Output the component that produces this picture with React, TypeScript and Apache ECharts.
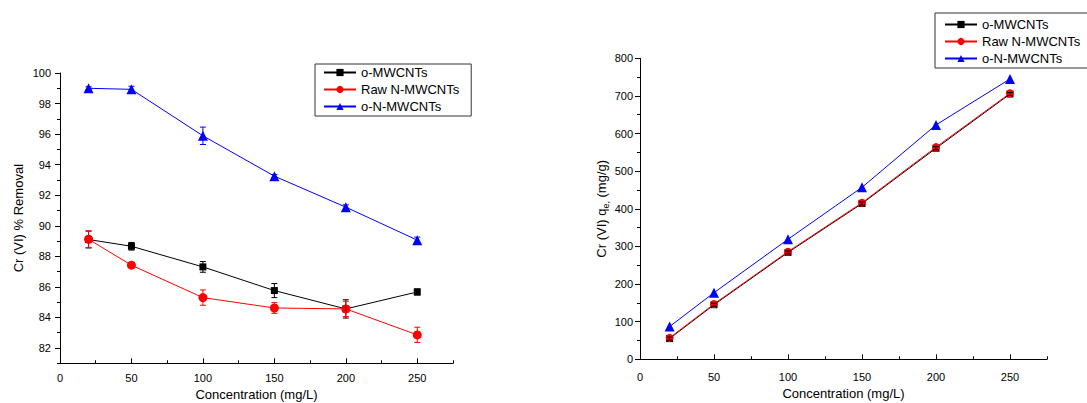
import React, { useEffect, useRef } from 'react';
import * as echarts from 'echarts';

// ---------- data ----------
const concentrations = [20, 50, 100, 150, 200, 250];
const seriesNames = ['o-MWCNTs', 'Raw N-MWCNTs', 'o-N-MWCNTs'];

// left chart: Cr(VI) % removal
const removalO = [89.1, 88.66, 87.31, 85.76, 84.56, 85.67];
const removalOErr = [0.55, 0.25, 0.35, 0.46, 0.6, 0.2];
const removalRaw = [89.12, 87.42, 85.3, 84.62, 84.56, 82.86];
const removalRawErr = [0.55, 0.1, 0.5, 0.35, 0.5, 0.5];
const removalON = [99.0, 98.93, 95.89, 93.25, 91.22, 89.06];
const removalONErr = [0.1, 0.2, 0.57, 0.1, 0.15, 0.2];

// right chart: qe (mg/g)
const qeO = [55, 145, 284, 414, 561, 705];
const qeOErr = [4, 4, 4, 4, 4, 4];
const qeRaw = [57, 147, 286, 416, 564, 707];
const qeON = [87, 177, 319, 457, 623, 745];

// ticks
const xMajorTicks = [0, 50, 100, 150, 200, 250];
const xMinorTicks = [25, 75, 125, 175, 225, 275];
const removalMajorTicks = [82, 84, 86, 88, 90, 92, 94, 96, 98, 100];
const removalMinorTicks = [81, 83, 85, 87, 89, 91, 93, 95, 97, 99];
const qeMajorTicks = [0, 100, 200, 300, 400, 500, 600, 700, 800];
const qeMinorTicks = [50, 150, 250, 350, 450, 550, 650, 750];

const FONT = '"Liberation Sans", Arial, sans-serif';
const BLACK = '#000000';
const RED = '#ff0000';
const BLUE = '#0000ff';

const errorRender = (color: string) => (params: any, api: any) => {
  const x = api.value(0);
  const y = api.value(1);
  const e = api.value(2);
  const top = api.coord([x, y + e]);
  const bot = api.coord([x, y - e]);
  const hw = 3;
  const st = { stroke: color, lineWidth: 1 };
  return {
    type: 'group',
    children: [
      { type: 'line', shape: { x1: top[0], y1: top[1], x2: bot[0], y2: bot[1] }, style: st },
      { type: 'line', shape: { x1: top[0] - hw, y1: top[1], x2: top[0] + hw, y2: top[1] }, style: st },
      { type: 'line', shape: { x1: bot[0] - hw, y1: bot[1], x2: bot[0] + hw, y2: bot[1] }, style: st },
    ],
  };
};

const errSeries = (name: string, vals: number[], errs: number[], color: string, xi: number, yi: number) => ({
  name,
  type: 'custom',
  xAxisIndex: xi,
  yAxisIndex: yi,
  renderItem: errorRender(color),
  encode: { x: 0, y: 1 },
  data: concentrations.map((c, i) => [c, vals[i], errs[i]]),
  z: 5,
  silent: true,
});

const lineSeries = (
  name: string,
  vals: number[],
  color: string,
  symbol: string,
  size: number,
  xi: number,
  yi: number,
  z: number
) => ({
  name,
  type: 'line',
  xAxisIndex: xi,
  yAxisIndex: yi,
  data: concentrations.map((c, i) => [c, vals[i]]),
  symbol,
  symbolSize: size,
  showSymbol: true,
  lineStyle: { color, width: 1 },
  itemStyle: { color },
  z,
});

const axisText = { color: BLACK, fontFamily: FONT, fontSize: 11 };
const nameText = { color: BLACK, fontFamily: FONT, fontSize: 13 };

const xAxes = (gi: number, nameGap: number, labelMargin: number) => [
  {
    gridIndex: gi,
    type: 'value',
    min: 0,
    max: 275,
    position: 'bottom',
    axisLine: { onZero: false, lineStyle: { color: BLACK, width: 1 } },
    axisTick: { inside: true, length: 5, customValues: xMajorTicks, lineStyle: { color: BLACK } },
    axisLabel: { customValues: xMajorTicks, margin: labelMargin, ...axisText },
    splitLine: { show: false },
    name: 'Concentration (mg/L)',
    nameLocation: 'middle',
    nameGap,
    nameTextStyle: nameText,
  },
  {
    gridIndex: gi,
    type: 'value',
    min: 0,
    max: 275,
    position: 'bottom',
    axisLine: { show: false, onZero: false },
    axisTick: { inside: true, length: 3, customValues: xMinorTicks, lineStyle: { color: BLACK } },
    axisLabel: { show: false },
    splitLine: { show: false },
  },
];

const yAxes = (
  gi: number,
  min: number,
  max: number,
  major: number[],
  minor: number[],
  name: string,
  nameGap: number,
  labelMargin: number,
  rich?: any
) => [
  {
    gridIndex: gi,
    type: 'value',
    min,
    max,
    position: 'left',
    axisLine: { onZero: false, lineStyle: { color: BLACK, width: 1 } },
    axisTick: { inside: false, length: 5, customValues: major, lineStyle: { color: BLACK } },
    axisLabel: { customValues: major, margin: labelMargin, ...axisText },
    splitLine: { show: false },
    name,
    nameLocation: 'middle',
    nameGap,
    nameTextStyle: rich ? { ...nameText, rich } : nameText,
  },
  {
    gridIndex: gi,
    type: 'value',
    min,
    max,
    position: 'left',
    axisLine: { show: false, onZero: false },
    axisTick: { inside: false, length: 3, customValues: minor, lineStyle: { color: BLACK } },
    axisLabel: { show: false },
    splitLine: { show: false },
  },
];

const legendCfg = (left: number, top: number, padding: number[]) => ({
  orient: 'vertical',
  left,
  top,
  itemWidth: 32,
  itemHeight: 9,
  itemGap: 4,
  padding,
  borderColor: '#333333',
  borderWidth: 1,
  selectedMode: false,
  textStyle: { color: BLACK, fontFamily: FONT, fontSize: 13 },
  data: seriesNames,
});

export default function App() {
  const ref = useRef<HTMLDivElement>(null);
  useEffect(() => {
    if (!ref.current) return;
    const chart = echarts.init(ref.current, undefined, { renderer: 'svg' });
    const option: any = {
      animation: false,
      backgroundColor: '#ffffff',
      textStyle: { fontFamily: FONT },
      grid: [
        { left: 60, top: 73, width: 393, height: 290.3, containLabel: false, outerBoundsMode: 'none' },
        { left: 640, top: 58.3, width: 407, height: 301, containLabel: false, outerBoundsMode: 'none' },
      ],
      legend: [legendCfg(315, 64, [2, 12, 3, 8]), legendCfg(935, 13, [5, 12, 3, 9])],
      xAxis: [...xAxes(0, 24, 9), ...xAxes(1, 28, 12)],
      yAxis: [
        ...yAxes(0, 81, 100, removalMajorTicks, removalMinorTicks, 'Cr (VI) % Removal', 35, 9),
        ...yAxes(
          1,
          0,
          800,
          qeMajorTicks,
          qeMinorTicks,
          'Cr (VI) q{sub|e}{sub2|,} (mg/g)',
          29,
          7,
          {
            sub: { fontFamily: FONT, fontSize: 9, color: BLACK, verticalAlign: 'bottom', lineHeight: 18 },
            sub2: { fontFamily: FONT, fontSize: 9, color: BLACK, verticalAlign: 'bottom', lineHeight: 18 },
          }
        ),
      ],
      series: [
        lineSeries(seriesNames[0], removalO, BLACK, 'rect', 7, 0, 0, 2),
        lineSeries(seriesNames[1], removalRaw, RED, 'circle', 9, 0, 0, 3),
        lineSeries(seriesNames[2], removalON, BLUE, 'triangle', 10, 0, 0, 4),
        errSeries('errO', removalO, removalOErr, BLACK, 0, 0),
        errSeries('errRaw', removalRaw, removalRawErr, RED, 0, 0),
        errSeries('errON', removalON, removalONErr, BLUE, 0, 0),
        lineSeries(seriesNames[0], qeO, BLACK, 'rect', 7, 2, 2, 2),
        lineSeries(seriesNames[1], qeRaw, RED, 'circle', 8, 2, 2, 3),
        lineSeries(seriesNames[2], qeON, BLUE, 'triangle', 10, 2, 2, 4),
        errSeries('errQeO', qeO, qeOErr, BLACK, 2, 2),
      ],
    };
    chart.setOption(option);
    return () => chart.dispose();
  }, []);
  return (
    <div
      ref={ref}
      style={{ position: 'absolute', left: 0, top: 0, width: 1087, height: 403, background: '#fff' }}
    />
  );
}
